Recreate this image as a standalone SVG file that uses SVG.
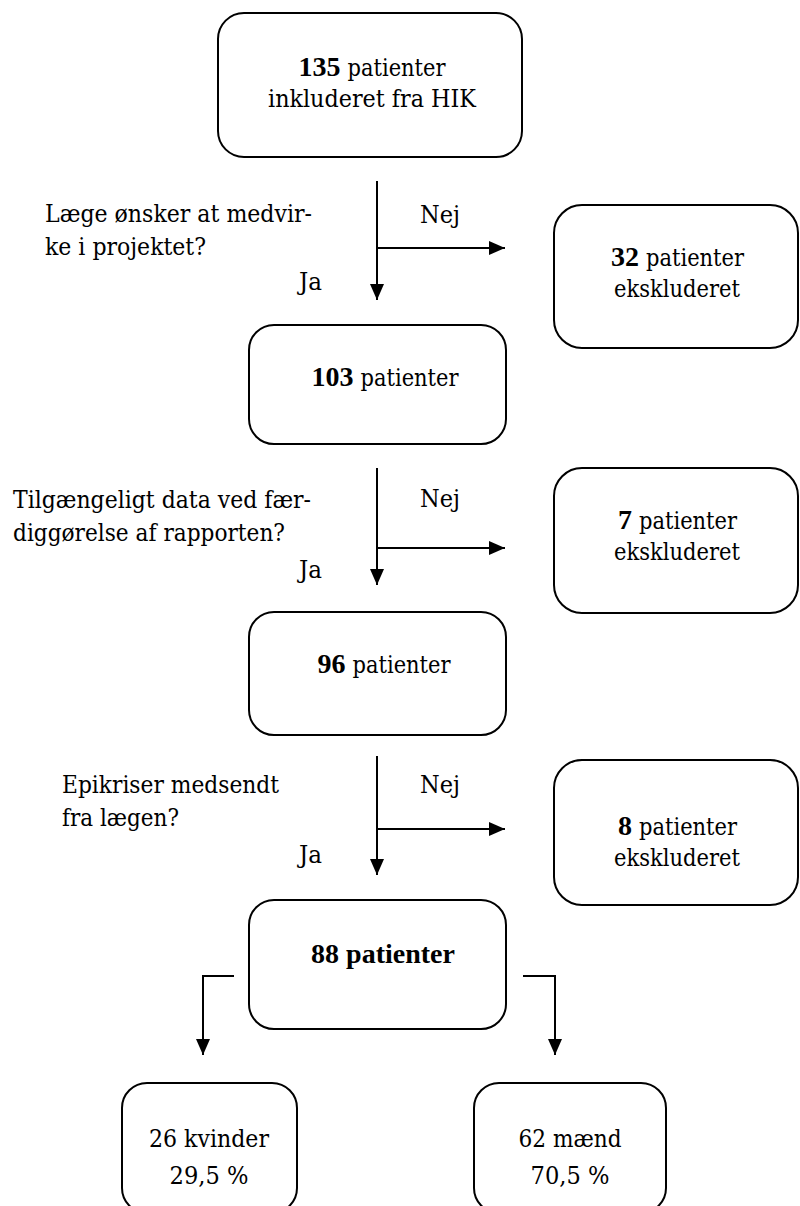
<svg xmlns="http://www.w3.org/2000/svg" width="800" height="1206" viewBox="0 0 800 1206">
<defs>
<style>
.box{fill:#fff;stroke:#000;stroke-width:2}
.ln{fill:none;stroke:#000;stroke-width:2}
text{fill:#000}
.r{font-family:"DejaVu Serif","Liberation Serif",serif;font-size:25px}
.b{font-family:"Liberation Serif","DejaVu Serif",serif;font-size:28px;font-weight:bold}
.c{text-anchor:middle}
</style>
<marker id="ah" markerWidth="16" markerHeight="14" refX="16" refY="7" orient="auto" markerUnits="userSpaceOnUse">
<path d="M0,0 L16,7 L0,14 Z" fill="#000"/>
</marker>
</defs>
<rect width="800" height="1206" fill="#fff"/>
<g id="connectors">
<line class="ln" x1="377" y1="181" x2="377" y2="300" marker-end="url(#ah)"/>
<line class="ln" x1="377" y1="248" x2="505" y2="248" marker-end="url(#ah)"/>
<line class="ln" x1="377" y1="468" x2="377" y2="585" marker-end="url(#ah)"/>
<line class="ln" x1="377" y1="548" x2="505" y2="548" marker-end="url(#ah)"/>
<line class="ln" x1="377" y1="756" x2="377" y2="875" marker-end="url(#ah)"/>
<line class="ln" x1="377" y1="829" x2="505" y2="829" marker-end="url(#ah)"/>
<path class="ln" d="M234,976 H203 V1055" marker-end="url(#ah)"/>
<path class="ln" d="M523,976 H555 V1055" marker-end="url(#ah)"/>
<text class="r" x="420" y="223" textLength="40" lengthAdjust="spacingAndGlyphs">Nej</text>
<text class="r" x="299" y="290" textLength="23" lengthAdjust="spacingAndGlyphs">Ja</text>
<text class="r" x="45" y="222" textLength="267" lengthAdjust="spacingAndGlyphs">Læge ønsker at medvir-</text>
<text class="r" x="45" y="255" textLength="161" lengthAdjust="spacingAndGlyphs">ke i projektet?</text>
<text class="r" x="420" y="507" textLength="40" lengthAdjust="spacingAndGlyphs">Nej</text>
<text class="r" x="299" y="578" textLength="23" lengthAdjust="spacingAndGlyphs">Ja</text>
<text class="r" x="13" y="508" textLength="298" lengthAdjust="spacingAndGlyphs">Tilgængeligt data ved fær-</text>
<text class="r" x="13" y="541" textLength="272" lengthAdjust="spacingAndGlyphs">diggørelse af rapporten?</text>
<text class="r" x="420" y="793" textLength="40" lengthAdjust="spacingAndGlyphs">Nej</text>
<text class="r" x="299" y="863" textLength="23" lengthAdjust="spacingAndGlyphs">Ja</text>
<text class="r" x="62" y="793" textLength="217" lengthAdjust="spacingAndGlyphs">Epikriser medsendt</text>
<text class="r" x="62" y="826" textLength="117" lengthAdjust="spacingAndGlyphs">fra lægen?</text>
</g>
<g id="n135">
<rect class="box" x="218" y="13" width="304" height="144" rx="26"/>
<text class="b" x="298.5" y="76">135</text>
<text class="r" x="347.5" y="76" textLength="98" lengthAdjust="spacingAndGlyphs">patienter</text>
<text class="r" x="268" y="107" textLength="208" lengthAdjust="spacingAndGlyphs">inkluderet fra HIK</text>
</g>
<g id="n32">
<rect class="box" x="554" y="205" width="244" height="143" rx="28"/>
<text class="b" x="611" y="266">32</text>
<text class="r" x="646" y="266" textLength="98" lengthAdjust="spacingAndGlyphs">patienter</text>
<text class="r" x="614" y="297" textLength="126" lengthAdjust="spacingAndGlyphs">ekskluderet</text>
</g>
<g id="n103">
<rect class="box" x="249" y="325" width="257" height="119" rx="25"/>
<text class="b" x="311.5" y="386">103</text>
<text class="r" x="360.5" y="386" textLength="98" lengthAdjust="spacingAndGlyphs">patienter</text>
</g>
<g id="n7">
<rect class="box" x="554" y="468" width="244" height="145" rx="28"/>
<text class="b" x="618" y="529">7</text>
<text class="r" x="639" y="529" textLength="98" lengthAdjust="spacingAndGlyphs">patienter</text>
<text class="r" x="614" y="560" textLength="126" lengthAdjust="spacingAndGlyphs">ekskluderet</text>
</g>
<g id="n96">
<rect class="box" x="249" y="612" width="257" height="123" rx="25"/>
<text class="b" x="317.5" y="673">96</text>
<text class="r" x="352.5" y="673" textLength="98" lengthAdjust="spacingAndGlyphs">patienter</text>
</g>
<g id="n8">
<rect class="box" x="554" y="760" width="244" height="145" rx="28"/>
<text class="b" x="618" y="835">8</text>
<text class="r" x="639" y="835" textLength="98" lengthAdjust="spacingAndGlyphs">patienter</text>
<text class="r" x="614" y="866" textLength="126" lengthAdjust="spacingAndGlyphs">ekskluderet</text>
</g>
<g id="n88">
<rect class="box" x="249" y="900" width="257" height="129" rx="25"/>
<text class="b c" x="383" y="963">88 patienter</text>
</g>
<g id="nkvinder">
<rect class="box" x="122" y="1083" width="175" height="130" rx="25"/>
<text class="r" x="149" y="1147" textLength="120" lengthAdjust="spacingAndGlyphs">26 kvinder</text>
<text class="r" x="169.5" y="1184" textLength="79" lengthAdjust="spacingAndGlyphs">29,5 %</text>
</g>
<g id="nmaend">
<rect class="box" x="474" y="1083" width="192" height="130" rx="25"/>
<text class="r" x="518.5" y="1147" textLength="103" lengthAdjust="spacingAndGlyphs">62 mænd</text>
<text class="r" x="530.5" y="1184" textLength="79" lengthAdjust="spacingAndGlyphs">70,5 %</text>
</g>
</svg>
